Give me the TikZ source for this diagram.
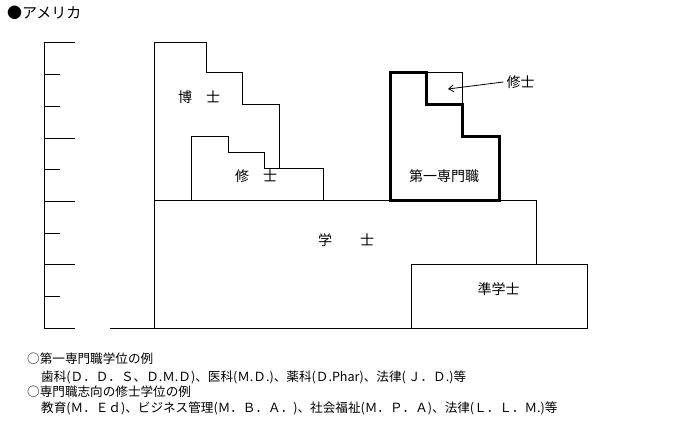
\documentclass[tikz,border=0pt]{standalone}
\usepackage{fontspec}
\setmainfont{Noto Sans CJK JP}
\usetikzlibrary{arrows.meta}
\tikzset{
  thin line/.style={line width=1pt},
  thick line/.style={line width=3pt, line join=miter},
  lbl/.style={inner sep=0pt, font=\fontsize{14}{14}\selectfont},
  note/.style={inner sep=0pt, anchor=west, font=\fontsize{12.6}{13}\selectfont},
  arr/.style={line width=0.8pt, -{Straight Barb[length=5pt,width=7pt]}}
}
\begin{document}
\begin{tikzpicture}[x=1pt,y=-1pt]
\useasboundingbox (0,0) rectangle (676,430);
% title
\node[inner sep=0pt, anchor=west, font=\fontsize{15}{15}\selectfont] (title) at (7,13) {●アメリカ};
% axis
\draw[thin line] (44,43) -- (44,328);
\foreach \k/\len in {0/75,1/60,2/60,3/75,4/60,5/75,6/60,7/75,8/60,9/75}{
  \draw[thin line] (44,{43+31.67*\k}) -- (\len,{43+31.67*\k});
}
% bottom baseline
\draw[thin line] (110,328) -- (587,328);
% 博士
\draw[thin line] (154,328) -- (154,43) -- (206,43) -- (206,73) -- (242,73) -- (242,105) -- (279,105) -- (279,169);
% 修士
\draw[thin line] (191,201) -- (191,137) -- (228,137) -- (228,153) -- (264,153) -- (264,169) -- (323,169) -- (323,201);
% 学士
\draw[thin line] (154,201) -- (536,201) -- (536,264);
% 準学士
\draw[thin line] (411,264) rectangle (587,328);
% 修士 small box
\draw[thin line] (426,73) -- (462,73) -- (462,105);
% 第一専門職
\draw[thick line] (390,201) -- (390,73) -- (426,73) -- (426,105) -- (462,105) -- (462,137) -- (499,137) -- (499,201) -- cycle;
% labels
\node[lbl] (hakase) at (199,97) {博　士};
\node[lbl] (shushi) at (256,176) {修　士};
\node[lbl] (gakushi) at (346,240) {学　　士};
\node[lbl] (jungakushi) at (498.5,289) {準学士};
\node[lbl] (senmon) at (444,176.5) {第一専門職};
\node[lbl] (shushilabel) at (520.5,82) {修士};
\coordinate (arrowend) at (448,89);
\draw[arr] (shushilabel.west) ++(-3,0) -- (arrowend);
% notes
\node[note] (n1) at (27,359) {○第一専門職学位の例};
\node[note] (n2) at (41,377) {歯科(Ｄ．Ｄ．Ｓ、Ｄ.Ｍ.Ｄ)、医科(Ｍ.Ｄ.)、薬科(Ｄ.Phar)、法律(\,Ｊ．Ｄ.)等};
\node[note] (n3) at (27,392) {○専門職志向の修士学位の例};
\node[note] (n4) at (41,408) {教育(Ｍ．Ｅｄ)、ビジネス管理(Ｍ．Ｂ．Ａ．)、社会福祉(Ｍ．Ｐ．Ａ)、法律(Ｌ．Ｌ．Ｍ.)等};
\end{tikzpicture}
\end{document}
